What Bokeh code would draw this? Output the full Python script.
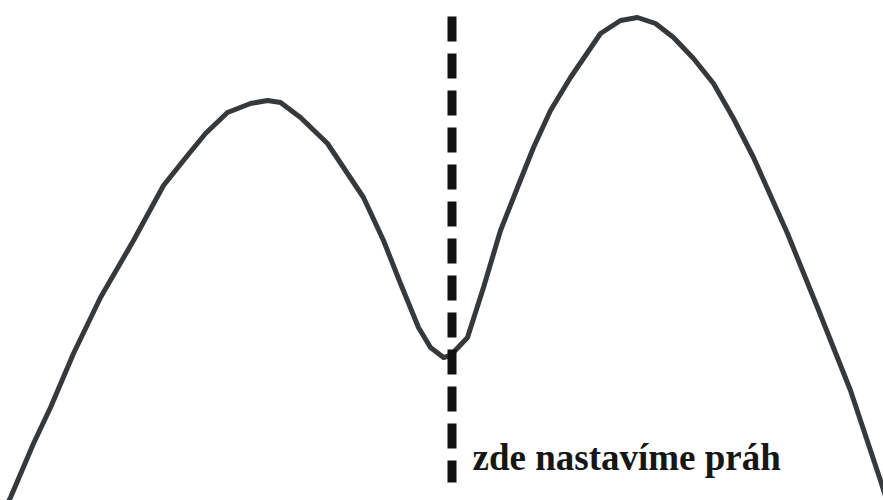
from bokeh.plotting import figure
from bokeh.models import Range1d
from bokeh.core.properties import value
from bokeh.embed import file_html
from bokeh.resources import INLINE

# Bimodal histogram outline (horizontal position, height)
curve_x = [6, 10, 33, 50, 73, 100, 133, 163, 187, 205, 227, 250, 267, 280,
           300, 327, 345, 363, 383, 400, 418, 430, 443, 450, 467, 483, 500,
           517, 533, 550, 570, 600, 620, 637, 655, 673, 693, 713, 733, 753,
           770, 787, 817, 850, 880, 888]
curve_y = [-5, 3, 57, 93, 147, 203, 260, 315, 345, 367, 388, 397, 400, 398,
           383, 357, 330, 303, 260, 217, 173, 153, 143, 145, 163, 213, 270,
           313, 353, 390, 423, 467, 480, 483, 477, 463, 442, 417, 382, 343,
           305, 267, 193, 110, 20, -5]

# Threshold placed at the valley between the two peaks
threshold_x = 451.5
threshold_top = 484
threshold_bottom = 18
label = "zde nastavíme práh"
label_x = 472
label_y = 43

p = figure(width=883, height=500, output_backend="svg", toolbar_location=None,
           x_range=Range1d(0, 883), y_range=Range1d(0, 500),
           min_border=0, background_fill_color="white")
p.axis.visible = False
p.grid.visible = False
p.outline_line_color = None

p.line(curve_x, curve_y, line_color="#36393c", line_width=5,
       line_join="round", line_cap="round")

p.line([threshold_x, threshold_x], [threshold_top, threshold_bottom],
       line_color="#111111", line_width=9, line_dash="25 12", line_cap="butt")

p.text(x=[label_x], y=[label_y], text=[label],
       text_font=value("Liberation Serif"), text_font_style="bold",
       text_font_size="37px", text_color="#161616",
       text_baseline="alphabetic", text_align="left")

open("out.html", "w").write(file_html(p, INLINE))
